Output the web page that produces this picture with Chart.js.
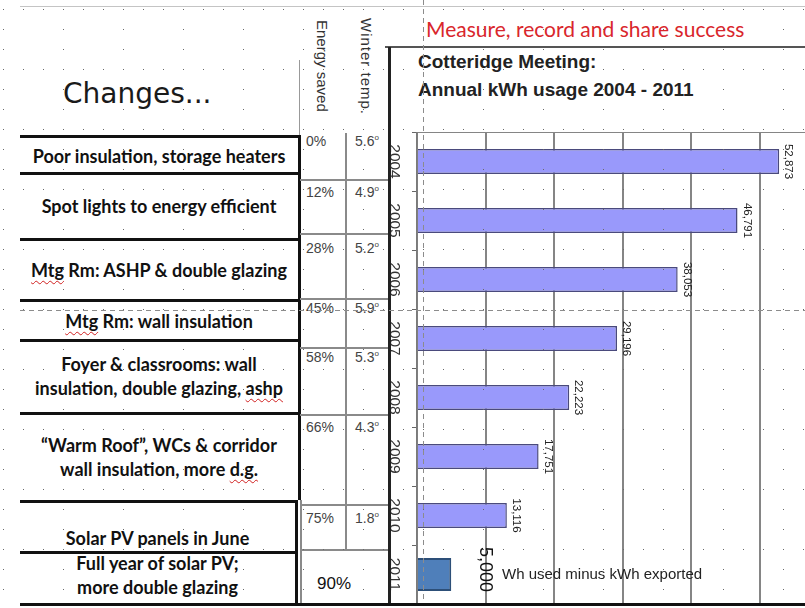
<!DOCTYPE html>
<html>
<head>
<meta charset="utf-8">
<script src="https://cdn.jsdelivr.net/npm/chart.js@4.4.1/dist/chart.umd.min.js"></script>
<style>
  html, body { margin: 0; padding: 0; width: 805px; height: 608px; overflow: hidden; background: #fff; }
  #page { position: relative; width: 805px; height: 608px; font-family: "Liberation Sans", Arial, sans-serif; }
  .abs { position: absolute; white-space: nowrap; }
  .rule { position: absolute; }
  .change { position: absolute; text-align: center; font-family: Lato, "Open Sans", sans-serif; font-weight: bold;
            font-size: 18px; line-height: 24px; color: #111; transform: translateY(-50%); white-space: nowrap; }
  .sp { text-decoration: underline wavy #d02020; text-decoration-thickness: 1px; text-underline-offset: 3px; }
  .cell { position: absolute; font-size: 14px; line-height: 14px; color: #444; }
  .vhead { position: absolute; writing-mode: vertical-rl; font-size: 15px; line-height: 15px; width: 15px; color: #333; white-space: nowrap; }
  #chartBox { position: absolute; left: 388px; top: 132px; width: 442px; height: 473px; }
  #dots { position: absolute; left: 0; top: 0; pointer-events: none; }
</style>
</head>
<body>
<div id="page">
  <div class="rule" style="left:20px;top:6px;width:785px;height:1px;background:#c4c4c4"></div>

  <div class="abs" style="left:63px;top:80px;font-family:'DejaVu Sans';font-size:28px;line-height:28px;color:#1a1a1a">Changes...</div>
  <div class="rule" style="left:299px;top:60px;width:1px;height:75px;background:#999"></div>

  <div class="vhead" style="left:315px;top:20px">Energy saved</div>
  <div class="vhead" style="left:359px;top:18px;letter-spacing:1px">Winter temp.</div>

  <div class="abs" style="left:426px;top:18px;font-family:Lato,sans-serif;font-size:21px;line-height:21px;color:#d9262c">Measure, record and share success</div>
  <div class="rule" style="left:385px;top:46px;width:420px;height:2px;background:#555"></div>
  <div class="abs" style="left:418px;top:52px;font-weight:bold;font-size:19px;line-height:19px;color:#222">Cotteridge Meeting:</div>
  <div class="abs" style="left:418px;top:80px;font-weight:bold;font-size:19px;line-height:19px;color:#222">Annual kWh usage 2004 - 2011</div>

  <div id="table"></div>

  <div id="chartBox"><canvas id="grafico"></canvas></div>
  <div class="rule" style="left:388px;top:47px;width:3px;height:558px;background:#222"></div>

  <div class="abs" style="left:502px;top:566px;font-size:15px;line-height:15px;color:#222">Wh used minus kWh exported</div>

  <div class="rule" style="left:20px;top:603px;width:785px;height:3px;background:#111"></div>
  <canvas id="dots" width="805" height="608"></canvas>
</div>

<script>
// --- dados ---
const years = ['2004', '2005', '2006', '2007', '2008', '2009', '2010', '2011'];
const kwhUsed = [52873, 46791, 38053, 29196, 22223, 17751, 13116, null];
const kwhNet = [null, null, null, null, null, null, null, 5000];
const valueMax = 60000;
const valueStep = 10000;

const changes = [
  'Poor insulation, storage heaters',
  'Spot lights to energy efficient',
  'Mtg Rm: ASHP & double glazing',
  'Mtg Rm: wall insulation',
  'Foyer & classrooms: wall\ninsulation, double glazing, ashp',
  '\u201cWarm Roof\u201d, WCs & corridor\nwall insulation, more d.g.',
  'Solar PV panels in June',
  'Full year of solar PV;\nmore double glazing'
];
const energySaved = ['0%', '12%', '28%', '45%', '58%', '66%', '75%'];
const winterTemp = ['5.6', '4.9', '5.2', '5.9', '5.3', '4.3', '1.8'];
const energySavedLast = '90%';
const spellWords = ['Mtg', 'ashp', 'd.g.'];

// --- layout da tabela (posições em px) ---
const boxTops = [135, 172, 238, 299, 339, 412, 500, 551];
const boxRights = [298, 298, 298, 298, 298, 298, 295, 295];
const textCenters = [155.5, 206, 270, 321, 376, 457, 538, 574.5];
const cellTops = [133, 179, 233, 298, 347, 414, 504, 549];
const cellTextCenters = [141, 192, 248, 308, 357, 427, 518];

function renderizarTabela() {
  const t = document.getElementById('table');
  let html = '';
  changes.forEach((txt, i) => {
    const w = boxRights[i] - 20;
    const h = (boxTops[i + 1] || 604) - boxTops[i];
    html += `<div class="rule" style="left:20px;top:${boxTops[i]}px;width:${w}px;height:3px;background:#111"></div>`;
    html += `<div class="rule" style="left:${boxRights[i]}px;top:${boxTops[i]}px;width:3px;height:${h}px;background:#111"></div>`;
    let label = txt.replace(/&/g, '&amp;');
    spellWords.forEach(wd => { label = label.split(wd).join(`<span class="sp">${wd}</span>`); });
    label = label.replace('\n', '<br>');
    html += `<div class="change" style="left:20px;width:${w}px;top:${textCenters[i]}px">${label}</div>`;
  });
  // colunas "Energy saved" / "Winter temp."
  cellTops.forEach((y, i) => {
    if (i > 0) html += `<div class="rule" style="left:300px;top:${y}px;width:88px;height:1.5px;background:#8a8a8a"></div>`;
  });
  html += `<div class="rule" style="left:345px;top:133px;width:1.5px;height:416px;background:#8a8a8a"></div>`;
  html += `<div class="rule" style="left:300px;top:500px;width:1.5px;height:104px;background:#8a8a8a"></div>`;
  energySaved.forEach((v, i) => {
    const top = cellTextCenters[i] - 7;
    html += `<div class="cell" style="left:306px;top:${top}px">${v}</div>`;
    html += `<div class="cell" style="left:355px;top:${top}px">${winterTemp[i]}<sup style="font-size:8px;line-height:0">o</sup></div>`;
  });
  html += `<div class="cell" style="left:317px;top:575px;font-size:17px;line-height:17px;color:#111">${energySavedLast}</div>`;
  t.innerHTML = html;
}

// --- rótulos girados (anos e valores) ---
const rotatedLabels = {
  id: 'rotatedLabels',
  afterDatasetsDraw(chart) {
    const ctx = chart.ctx;
    const yScale = chart.scales.y;
    ctx.save();
    ctx.textAlign = 'center';
    ctx.textBaseline = 'alphabetic';
    ctx.fillStyle = '#333';
    ctx.font = '15.5px "Liberation Sans", Arial';
    years.forEach((yr, i) => {
      ctx.save();
      ctx.translate(yScale.left + 2, yScale.getPixelForValue(i));
      ctx.rotate(Math.PI / 2);
      ctx.fillText(yr, 0, 0);
      ctx.restore();
    });
    chart.data.datasets.forEach((ds, di) => {
      const meta = chart.getDatasetMeta(di);
      meta.data.forEach((bar, i) => {
        const v = ds.data[i];
        if (v == null) return;
        ctx.save();
        ctx.fillStyle = ds.labelColor;
        ctx.font = ds.labelFont;
        ctx.translate(bar.x + ds.labelOffset, bar.y + ds.labelShift);
        ctx.rotate(Math.PI / 2);
        ctx.fillText(v.toLocaleString('en-US'), 0, 0);
        ctx.restore();
      });
    });
    ctx.restore();
  }
};

function renderizarGrafico() {
  const ctx = document.getElementById('grafico');
  new Chart(ctx, {
    type: 'bar',
    data: {
      labels: years,
      datasets: [{
        label: 'kWh used',
        data: kwhUsed,
        backgroundColor: '#9999fb',
        borderColor: '#4a4a7c',
        borderWidth: 1.5,
        barPercentage: 0.42,
        categoryPercentage: 1,
        grouped: false,
        labelColor: '#222',
        labelFont: '11.5px "Liberation Sans", Arial',
        labelOffset: 6,
        labelShift: 0
      }, {
        label: 'kWh used minus kWh exported',
        data: kwhNet,
        backgroundColor: '#4f7fba',
        borderColor: '#2d4f78',
        borderWidth: 2,
        barPercentage: 0.56,
        categoryPercentage: 1,
        grouped: false,
        labelColor: '#111',
        labelFont: '18px "Liberation Sans", Arial',
        labelOffset: 29,
        labelShift: -5
      }]
    },
    options: {
      indexAxis: 'y',
      responsive: true,
      maintainAspectRatio: false,
      animation: false,
      layout: { padding: { top: 0, right: 2, bottom: 1, left: 0 } },
      scales: {
        x: {
          position: 'top',
          min: 0,
          max: valueMax,
          ticks: { display: false, stepSize: valueStep },
          grid: { color: '#858585', lineWidth: 2, drawTicks: false },
          border: { display: true, color: '#858585', width: 2 },
          afterFit: s => { s.height = 0; }
        },
        y: {
          ticks: { display: false },
          grid: { drawOnChartArea: false, drawTicks: true, tickLength: 5, color: '#666', offset: true },
          border: { color: '#7a7a7a', width: 1.5 },
          afterFit: s => { s.width = 29; }
        }
      },
      plugins: {
        legend: { display: false },
        tooltip: { enabled: false }
      }
    },
    plugins: [rotatedLabels]
  });
}

// --- grade pontilhada e guias do slide ---
function renderizarGrade() {
  const c = document.getElementById('dots').getContext('2d');
  c.fillStyle = '#6a6a6a';
  for (let y = 9; y < 605; y += 60) {
    for (let x = 3; x < 805; x += 20) c.fillRect(x, y, 1, 1);
  }
  for (let x = 3; x < 805; x += 60) {
    for (let y = 9; y < 605; y += 20) c.fillRect(x, y, 1, 1);
  }
  c.strokeStyle = '#8c8c8c';
  c.lineWidth = 1;
  c.setLineDash([5, 4]);
  c.beginPath();
  c.moveTo(20, 310.5); c.lineTo(805, 310.5);
  c.moveTo(423.5, 0); c.lineTo(423.5, 603);
  c.stroke();
}

renderizarTabela();
renderizarGrafico();
renderizarGrade();
</script>
</body>
</html>
